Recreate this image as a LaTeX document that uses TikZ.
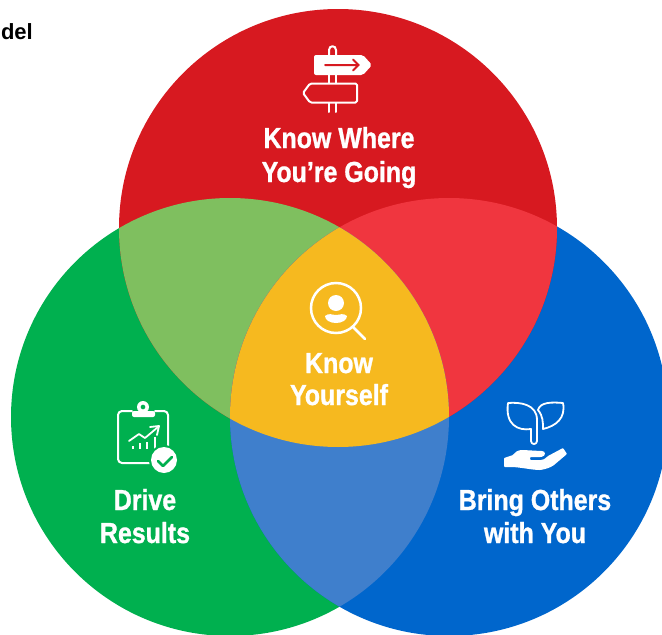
\documentclass[tikz,border=0pt]{standalone}
\usepackage{fontspec}
\setmainfont{Liberation Sans}
\newfontfamily\narrowbold[FakeStretch=0.86,FakeBold=1]{Liberation Sans}
\definecolor{cred}{HTML}{D71920}
\definecolor{cgreen}{HTML}{00B04F}
\definecolor{cblue}{HTML}{0066CC}
\definecolor{cyellow}{HTML}{F6B91F}
\definecolor{lgreen}{HTML}{7FBF5F}
\definecolor{lred}{HTML}{F0363F}
\definecolor{lblue}{HTML}{3F7FCC}
\tikzset{
  venntext/.style={text=white,font=\narrowbold\bfseries\fontsize{29}{32}\selectfont,anchor=base,inner sep=0pt},
  iconline/.style={draw=white,line width=2pt,line join=round,line cap=round},
  iconfill/.style={fill=white,draw=none}
}
\begin{document}
\begin{tikzpicture}[x=1pt,y=-1pt]
\useasboundingbox (0,0) rectangle (662,635);
\clip (0,0) rectangle (662,635);
\fill[white] (0,0) rectangle (662,635);
\coordinate (T) at (338,228);
\coordinate (L) at (230,417);
\coordinate (R) at (449,417);
\def\rr{219}
% circles
\fill[cgreen] (L) circle[radius=\rr];
\fill[cblue] (R) circle[radius=\rr];
\fill[cred] (T) circle[radius=\rr];
% pairwise overlaps
\begin{scope}\clip (T) circle[radius=\rr];\fill[lgreen] (L) circle[radius=\rr];\end{scope}
\begin{scope}\clip (T) circle[radius=\rr];\fill[lred] (R) circle[radius=\rr];\end{scope}
\begin{scope}\clip (L) circle[radius=\rr];\fill[lblue] (R) circle[radius=\rr];\end{scope}
\begin{scope}\clip (T) circle[radius=\rr];\clip (L) circle[radius=\rr];\fill[cyellow] (R) circle[radius=\rr];\end{scope}
% labels
\node[anchor=base east,inner sep=0pt,font=\bfseries\fontsize{22}{24}\selectfont] (title) at (33,39) {del};
\node[venntext] (t1) at (339,148) {Know Where};
\node[venntext] (t2) at (339,182) {You’re Going};
\node[venntext] (c1) at (339,373) {Know};
\node[venntext] (c2) at (339,405) {Yourself};
\node[venntext] (l1) at (145,510) {Drive};
\node[venntext] (l2) at (145,543) {Results};
\node[venntext] (r1) at (535,510) {Bring Others};
\node[venntext] (r2) at (535,543) {with You};
% signpost icon
\draw[iconline] (329,55) -- (329,50) .. controls (329,45) and (336,45) .. (336,50) -- (336,55);
\draw[iconline] (329,75) -- (329,83) (336,75) -- (336,83);
\draw[iconline] (329,103) -- (329,112) (336,103) -- (336,112);
\fill[white,rounded corners=2pt] (314,55) -- (363,55) -- (372,65) -- (363,75) -- (314,75) -- cycle;
\draw[cred,line width=2pt,line cap=round,line join=miter] (325,65) -- (358,65) (353,59.5) -- (358.5,65) -- (353,70.5);
\draw[iconline,rounded corners=1.5pt] (310,83.5) -- (357,83.5) -- (357,102.5) -- (310,102.5) -- (303,93) -- cycle;
% magnifier icon
\draw[draw=white,line width=2.5pt] (336,308) circle[radius=25];
\draw[iconline,line width=2.5pt] (353,327) -- (365,339);
\fill[white] (336,303) circle[radius=8];
\fill[white] (325,316) .. controls (329,312.5) and (332,315) .. (336,315) .. controls (340,315) and (343,312.5) .. (347,316) .. controls (347,320) and (342,323) .. (336,323) .. controls (330,323) and (325,320) .. (325,316) -- cycle;
% clipboard icon
\draw[iconline,rounded corners=4pt] (132,411) -- (118,411) -- (118,463) -- (168,463) -- (168,411) -- (155,411);
\fill[white,rounded corners=2pt] (132,411) rectangle (155,417);
\fill[white,even odd rule] (143,407) circle[radius=6] (143,407) circle[radius=2.5];
\draw[iconline,line width=1.8pt] (129,441) -- (139,434) -- (145,438) -- (158,427);
\draw[iconline,line width=1.8pt] (150,427) -- (159,426) -- (157,435);
\draw[draw=white,line width=1.2pt] (133,449) -- (133,446) (140,449) -- (140,443) (147,449) -- (147,442) (155,449) -- (155,437);
\fill[cgreen] (164,460) circle[radius=15];
\fill[white] (164,460) circle[radius=13];
\draw[draw=cgreen,line width=2.5pt,line cap=round,line join=round] (158,461) -- (163,466) -- (172,457);
% plant icon
\draw[iconline,line width=1.8pt] (508,403) .. controls (520,402) and (537,404) .. (537,420) -- (537,441) .. controls (537,445) and (531,445) .. (531,441) -- (531,429) .. controls (518,431) and (505,425) .. (508,403) -- cycle;
\draw[iconline,line width=1.8pt] (563,403) .. controls (552,402) and (540,402) .. (538,410) .. controls (543,416) and (543,422) .. (543,429) .. controls (556,426) and (566,418) .. (563,403) -- cycle;
\fill[white,rounded corners=0.8pt] (504,458) -- (504,467) -- (513,467) .. controls (525,468) and (533,470) .. (540,470) .. controls (547,469) and (551,467) .. (554,465) -- (567,454) -- (563,448) -- (548,456) .. controls (545,459) and (543,460) .. (540,460) -- (530,460) -- (530,457) -- (541,457) .. controls (546,456) and (546,451) .. (541,451) -- (523,450) .. controls (518,450) and (515,452) .. (513,455) -- cycle;
\end{tikzpicture}
\end{document}
